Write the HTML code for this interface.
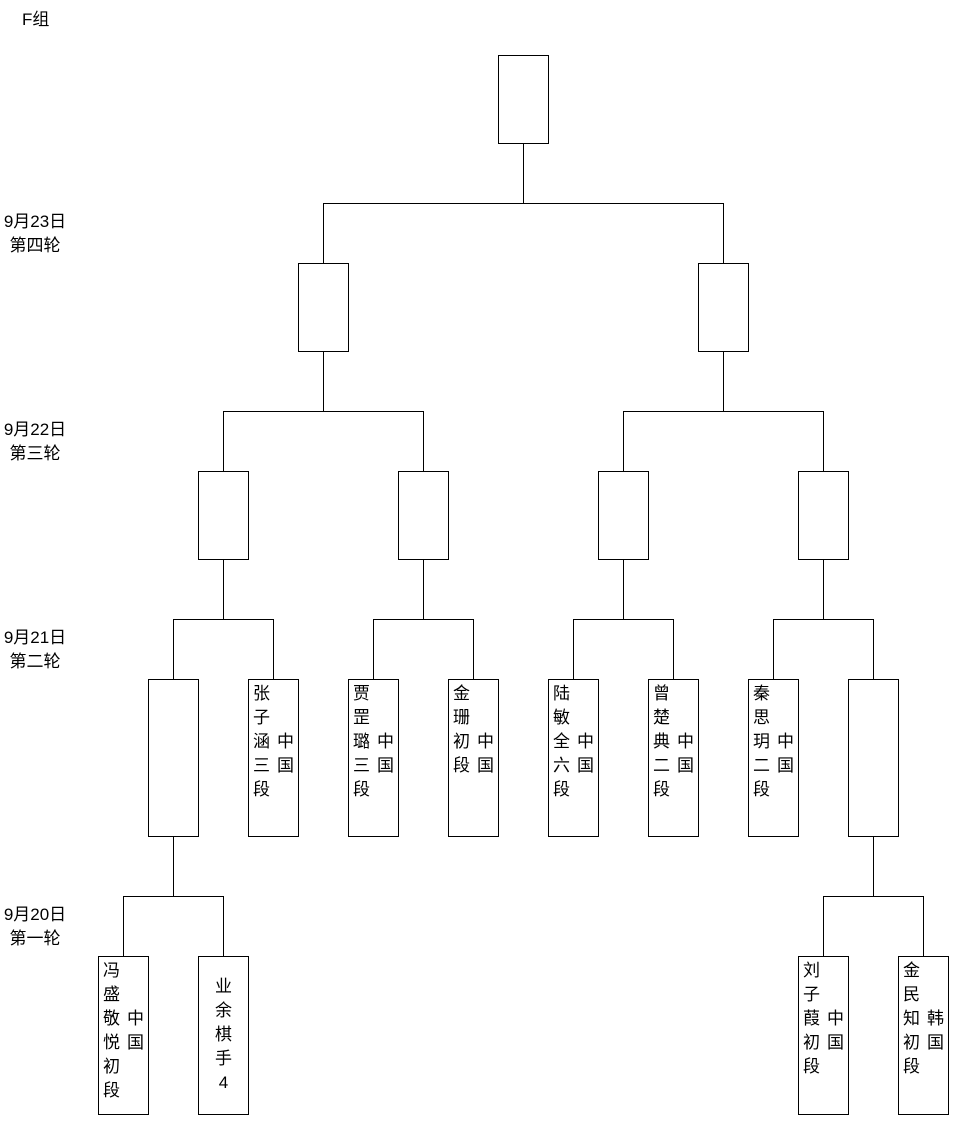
<!DOCTYPE html>
<html><head><meta charset="utf-8"><style>
body{margin:0;width:961px;height:1125px;background:#fff;position:relative;font-family:"Liberation Sans","Noto Sans CJK SC",sans-serif;font-size:17px;color:#000;overflow:hidden}
.b{position:absolute;border:1px solid #000;box-sizing:border-box;background:#fff}
.t{position:absolute;line-height:24px;font-size:17px}
.l{position:absolute;font-size:17px;line-height:24px;text-align:center}
svg{position:absolute;left:0;top:0}
</style></head><body>
<svg width="961" height="1125"><g stroke="#000" stroke-width="1" fill="none">
<path d="M523.5 143V203.5M323.5 263V203.5H723.5V263"/>
<path d="M323.5 351V411.5M223.5 471V411.5H423.5V471"/>
<path d="M723.5 351V411.5M623.5 471V411.5H823.5V471"/>
<path d="M223.5 559V619.5M173.5 679V619.5H273.5V679"/>
<path d="M423.5 559V619.5M373.5 679V619.5H473.5V679"/>
<path d="M623.5 559V619.5M573.5 679V619.5H673.5V679"/>
<path d="M823.5 559V619.5M773.5 679V619.5H873.5V679"/>
<path d="M173.5 836V896.5M123.5 956V896.5H223.5V956"/>
<path d="M873.5 836V896.5M823.5 956V896.5H923.5V956"/>
</g></svg>
<div class="l" style="left:22px;top:8px;text-align:left">F组</div>
<div class="l" style="left:0;top:210px;width:70px">9月23日<br>第四轮</div>
<div class="l" style="left:0;top:418px;width:70px">9月22日<br>第三轮</div>
<div class="l" style="left:0;top:626px;width:70px">9月21日<br>第二轮</div>
<div class="l" style="left:0;top:903px;width:70px">9月20日<br>第一轮</div>

<div class="b" style="left:498px;top:55px;width:51px;height:89px"></div>
<div class="b" style="left:298px;top:263px;width:51px;height:89px"></div>
<div class="b" style="left:698px;top:263px;width:51px;height:89px"></div>
<div class="b" style="left:198px;top:471px;width:51px;height:89px"></div>
<div class="b" style="left:398px;top:471px;width:51px;height:89px"></div>
<div class="b" style="left:598px;top:471px;width:51px;height:89px"></div>
<div class="b" style="left:798px;top:471px;width:51px;height:89px"></div>

<div class="b" style="left:148px;top:679px;width:51px;height:158px"></div>
<div class="b" style="left:248px;top:679px;width:51px;height:158px"></div>
<div class="t" style="left:253px;top:682px">张<br>子<br>涵<br>三<br>段</div><div class="t" style="left:277px;top:730px">中<br>国</div>
<div class="b" style="left:348px;top:679px;width:51px;height:158px"></div>
<div class="t" style="left:353px;top:682px">贾<br>罡<br>璐<br>三<br>段</div><div class="t" style="left:377px;top:730px">中<br>国</div>
<div class="b" style="left:448px;top:679px;width:51px;height:158px"></div>
<div class="t" style="left:453px;top:682px">金<br>珊<br>初<br>段</div><div class="t" style="left:477px;top:730px">中<br>国</div>
<div class="b" style="left:548px;top:679px;width:51px;height:158px"></div>
<div class="t" style="left:553px;top:682px">陆<br>敏<br>全<br>六<br>段</div><div class="t" style="left:577px;top:730px">中<br>国</div>
<div class="b" style="left:648px;top:679px;width:51px;height:158px"></div>
<div class="t" style="left:653px;top:682px">曾<br>楚<br>典<br>二<br>段</div><div class="t" style="left:677px;top:730px">中<br>国</div>
<div class="b" style="left:748px;top:679px;width:51px;height:158px"></div>
<div class="t" style="left:753px;top:682px">秦<br>思<br>玥<br>二<br>段</div><div class="t" style="left:777px;top:730px">中<br>国</div>
<div class="b" style="left:848px;top:679px;width:51px;height:158px"></div>

<div class="b" style="left:98px;top:956px;width:51px;height:159px"></div>
<div class="t" style="left:103px;top:959px">冯<br>盛<br>敬<br>悦<br>初<br>段</div><div class="t" style="left:127px;top:1007px">中<br>国</div>
<div class="b" style="left:198px;top:956px;width:51px;height:159px"></div>
<div class="t" style="left:198px;top:975px;width:51px;text-align:center">业<br>余<br>棋<br>手<br>4</div>
<div class="b" style="left:798px;top:956px;width:51px;height:159px"></div>
<div class="t" style="left:803px;top:959px">刘<br>子<br>葭<br>初<br>段</div><div class="t" style="left:827px;top:1007px">中<br>国</div>
<div class="b" style="left:898px;top:956px;width:51px;height:159px"></div>
<div class="t" style="left:903px;top:959px">金<br>民<br>知<br>初<br>段</div><div class="t" style="left:927px;top:1007px">韩<br>国</div>
</body></html>
